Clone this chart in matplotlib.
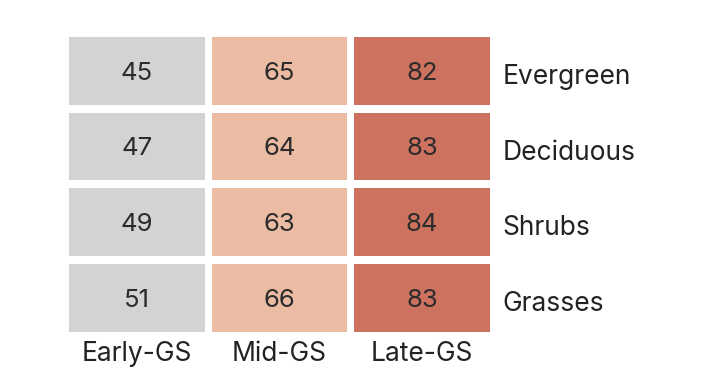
import numpy as np
import matplotlib.pyplot as plt
from matplotlib.patches import Rectangle

plt.rcParams["font.family"] = ["Inter", "DejaVu Sans"]

periods = ["Early-GS", "Mid-GS", "Late-GS"]
vegetation = ["Evergreen", "Deciduous", "Shrubs", "Grasses"]
values = np.array([
    [45, 65, 82],
    [47, 64, 83],
    [49, 63, 84],
    [51, 66, 83],
])
column_colors = ["#d2d3d4", "#ebbca3", "#cc725f"]

W, H = 708, 378
fig = plt.figure(figsize=(W / 100, H / 100), dpi=100)
left, right, top, bottom = 69, 490, 37, 332
ax = fig.add_axes([left / W, 1 - bottom / H, (right - left) / W, (bottom - top) / H])

cell_w = (right - left - 14) / 3 / ((right - left - 14) / 3 + 7)
cell_h = (bottom - top - 24) / 4 / ((bottom - top - 24) / 4 + 8)

for j, name in enumerate(vegetation):
    for i, period in enumerate(periods):
        ax.add_patch(Rectangle((i, j), cell_w, cell_h, facecolor=column_colors[i], edgecolor="none"))
        ax.text(i + cell_w / 2, j + cell_h / 2 + 0.03, str(values[j, i]), ha="center", va="center",
                fontsize=18.5, color="#2b2b2b")
    ax.text(2 + cell_w + 0.085, j + cell_h / 2 + 0.08, name, ha="left", va="center",
            fontsize=19, color="#222222", clip_on=False)

for i, period in enumerate(periods):
    ax.text(i + cell_w / 2, 3 + cell_h + 0.12, period, ha="center", va="top",
            fontsize=19, color="#222222", clip_on=False)

ax.set_xlim(0, 2 + cell_w)
ax.set_ylim(3 + cell_h, 0)
ax.axis("off")

fig.savefig("out.png", dpi=100)
